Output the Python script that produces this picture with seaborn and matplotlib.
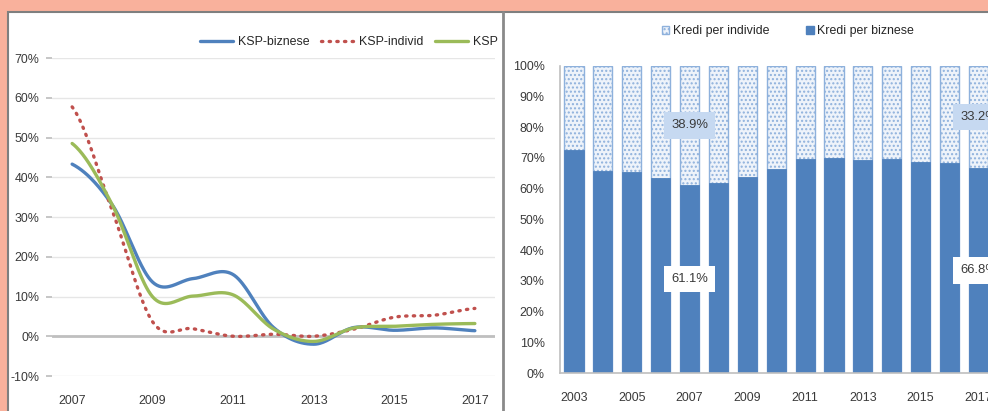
import numpy as np
import pandas as pd
import matplotlib
matplotlib.use("Agg")
import matplotlib.pyplot as plt
import seaborn as sns
from matplotlib.patches import Rectangle, Patch
from matplotlib.lines import Line2D
from matplotlib.ticker import FuncFormatter

# =============================
# DATA
# =============================
line_years = list(range(2007, 2018))
ksp_biznese = [43.3, 33.0, 13.6, 14.5, 15.5, 2.2, -2.0, 2.2, 1.5, 2.1, 1.4]
ksp_individ = [57.7, 31.5, 3.6, 1.9, 0.0, 0.5, 0.0, 1.8, 4.8, 5.3, 7.0]
ksp_total = [48.5, 33.0, 9.9, 10.1, 10.4, 1.8, -1.3, 2.1, 2.5, 3.0, 3.2]

bar_years = list(range(2003, 2018))
kredi_biznese = [72.5, 65.8, 65.5, 63.5, 61.1, 61.8, 63.8, 66.3, 69.6, 69.9, 69.4, 69.6, 68.7, 68.2, 66.8]
kredi_individe = [27.5, 34.2, 34.5, 36.5, 38.9, 38.2, 36.2, 33.7, 30.4, 30.1, 30.6, 30.4, 31.3, 31.8, 33.2]
labelled_years = [2007, 2017]

BLUE = "#4F81BD"
RED = "#C0504D"
GREEN = "#9BBB59"
TXT = "#3A3A3A"
FS = 8.9

W, H = 988, 411


def fx(px):
    return px / W


def fy(py):
    return 1 - py / H


def smooth(xs, ys, n=40):
    # Excel-style smoothed line (Catmull-Rom through the data points)
    xs = np.asarray(xs, float)
    ys = np.asarray(ys, float)
    out_x, out_y = [], []
    t = np.linspace(0, 1, n)
    h00 = 2 * t**3 - 3 * t**2 + 1
    h10 = t**3 - 2 * t**2 + t
    h01 = -2 * t**3 + 3 * t**2
    h11 = t**3 - t**2
    last = len(ys) - 1
    for i in range(last):
        p0, p1 = ys[max(i - 1, 0)], ys[i]
        p2, p3 = ys[i + 1], ys[min(i + 2, last)]
        m1 = (p2 - p0) / 2
        m2 = (p3 - p1) / 2
        out_y.extend(h00 * p1 + h10 * m1 + h01 * p2 + h11 * m2)
        out_x.extend(xs[i] + t * (xs[i + 1] - xs[i]))
    return np.array(out_x), np.array(out_y)


sns.set_theme(style="white")
plt.rcParams["font.family"] = ["Liberation Sans", "DejaVu Sans"]
plt.rcParams["font.size"] = FS

fig = plt.figure(figsize=(9.88, 4.11), dpi=100)
fig.patch.set_facecolor("#F9B19C")
# white card with grey frame (open to the right and bottom, as cropped)
fig.patches.append(Rectangle((fx(8), -0.05), 1.1, fy(12) + 0.05, transform=fig.transFigure,
                             facecolor="white", edgecolor="#7F7F7F", lw=1.5, zorder=-1))
fig.lines.append(Line2D([fx(503), fx(503)], [0, fy(12)], transform=fig.transFigure,
                        color="#8A8A8A", lw=2, zorder=10))

pct = FuncFormatter(lambda v, _: f"{v:.0f}%")

# --------------------------------------
# LEFT : growth of loans (smoothed lines)
# --------------------------------------
ax1 = fig.add_axes([fx(52), fy(376), fx(495) - fx(52), fy(58) - fy(376)])
ax1.set_facecolor("none")
series = [("KSP-biznese", ksp_biznese, BLUE, "-"),
          ("KSP-individ", ksp_individ, RED, (0, (0.4, 1.9))),
          ("KSP", ksp_total, GREEN, "-")]
for name, vals, col, ls in series:
    sx, sy = smooth(line_years, vals)
    d = pd.DataFrame({"year": sx, "value": sy})
    sns.lineplot(data=d, x="year", y="value", ax=ax1, color=col, lw=2.4,
                 linestyle=ls, dash_capstyle="round", label=name, sort=False, legend=False)
ax1.set_xlim(2006.5, 2017.5)
ax1.set_ylim(-10, 70)
ax1.set_yticks(range(-10, 71, 10))
ax1.yaxis.set_major_formatter(pct)
ax1.set_xticks(line_years[::2])
ax1.set_xlabel("")
ax1.set_ylabel("")
for v in range(-10, 71, 10):
    ax1.axhline(v, color="#BFBFBF" if v == 0 else "#E6E6E6", lw=2 if v == 0 else 1, zorder=0)
for s in ax1.spines.values():
    s.set_visible(False)
ax1.tick_params(axis="y", length=4, color="#BFBFBF", left=True, pad=5, labelcolor=TXT, labelsize=FS)
ax1.tick_params(axis="x", length=0, pad=14, labelcolor=TXT, labelsize=FS)

handles1 = [Line2D([], [], color=c, lw=2.4, linestyle=ls, dash_capstyle="round") for _, _, c, ls in series]
fig.legend(handles1, [s[0] for s in series], loc="center right",
           bbox_to_anchor=(fx(498), fy(42)), ncol=3, frameon=False, fontsize=FS,
           handlelength=2.7, handletextpad=0.4, columnspacing=0.9, borderaxespad=0, borderpad=0)

# --------------------------------------
# RIGHT : structure of loans (100% stacked)
# --------------------------------------
ax2 = fig.add_axes([fx(560), fy(373), 1 - fx(560), fy(65.7) - fy(373)])
ax2.set_facecolor("none")
bars = pd.DataFrame({"year": [str(y) for y in bar_years],
                     "biz": kredi_biznese,
                     "ind": kredi_individe})
bars["total"] = bars["biz"] + bars["ind"]
sns.barplot(data=bars, x="year", y="total", ax=ax2, color="#EEF3FA", width=0.66,
            edgecolor="#8EB1DC", linewidth=1.0, hatch="....", saturation=1)
sns.barplot(data=bars, x="year", y="biz", ax=ax2, color=BLUE, width=0.66,
            edgecolor=BLUE, linewidth=0.6, saturation=1)
ax2.set_xlim(-0.484, 14.33)
ax2.set_ylim(0, 100)
ax2.set_yticks(range(0, 101, 10))
ax2.yaxis.set_major_formatter(pct)
ax2.set_xticks(range(0, len(bar_years), 2))
ax2.set_xticklabels([str(y) for y in bar_years[::2]])
ax2.set_xlabel("")
ax2.set_ylabel("")
for side in ["top", "right"]:
    ax2.spines[side].set_visible(False)
for side in ["left", "bottom"]:
    ax2.spines[side].set_color("#BFBFBF")
    ax2.spines[side].set_linewidth(1.2)
ax2.tick_params(axis="y", length=0, pad=11, labelcolor=TXT, labelsize=FS)
ax2.tick_params(axis="x", length=0, pad=14, labelcolor=TXT, labelsize=FS)

for yr in labelled_years:
    i = bar_years.index(yr)
    b, ind = kredi_biznese[i], kredi_individe[i]
    ax2.text(i, b + ind / 2, f"{ind:.1f}%", ha="center", va="center", fontsize=9.4, color=TXT,
             bbox=dict(boxstyle="square,pad=0.55", fc="#C6D9F1", ec="none"))
    ax2.text(i, b / 2, f"{b:.1f}%", ha="center", va="center", fontsize=9.4, color=TXT,
             bbox=dict(boxstyle="square,pad=0.55", fc="white", ec="none"))

handles2 = [Patch(facecolor="#EEF3FA", edgecolor="#8EB1DC", hatch="...."),
            Patch(facecolor=BLUE, edgecolor=BLUE)]
fig.legend(handles2, ["Kredi per individe", "Kredi per biznese"], loc="center",
           bbox_to_anchor=(fx(788), fy(31)), ncol=2, frameon=False, fontsize=FS,
           handlelength=0.6, handleheight=0.6, handletextpad=0.3, columnspacing=3.0,
           borderaxespad=0, borderpad=0)

fig.savefig("out.png", dpi=100)
